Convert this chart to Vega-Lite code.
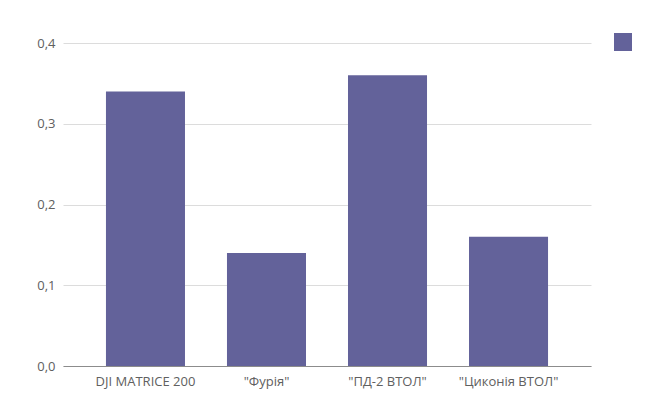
{
  "$schema": "https://vega.github.io/schema/vega-lite/v6.json",
  "width": 528,
  "height": 323,
  "autosize": {"type": "none"},
  "padding": {"left": 63, "top": 43, "right": 71, "bottom": 40},
  "background": "white",
  "config": {
    "locale": {"number": {"decimal": ",", "thousands": " ", "grouping": [3], "currency": ["", ""]}},
    "view": {"stroke": null},
    "font": "Open Sans"
  },
  "data": {
    "values": [
      {"name": "DJI MATRICE 200", "value": 0.34, "series": " "},
      {"name": "\"Фурія\"", "value": 0.14, "series": " "},
      {"name": "\"ПД-2 ВТОЛ\"", "value": 0.36, "series": " "},
      {"name": "\"Циконія ВТОЛ\"", "value": 0.16, "series": " "}
    ]
  },
  "mark": {"type": "bar"},
  "encoding": {
    "x": {
      "field": "name",
      "type": "nominal",
      "sort": null,
      "scale": {"paddingInner": 0.347, "paddingOuter": 0.355},
      "axis": {
        "title": null,
        "labelAngle": 0,
        "ticks": false,
        "labelPadding": 9,
        "labelFontSize": 13,
        "labelColor": "#606060",
        "domainColor": "#8c8c8c",
        "domainWidth": 1
      }
    },
    "y": {
      "field": "value",
      "type": "quantitative",
      "scale": {"domain": [0, 0.4], "nice": false},
      "axis": {
        "title": null,
        "values": [0, 0.1, 0.2, 0.3, 0.4],
        "format": ".1f",
        "ticks": false,
        "domain": false,
        "labelPadding": 8,
        "labelFontSize": 13,
        "labelColor": "#606060",
        "gridColor": "#dcdcdc",
        "gridWidth": 1
      }
    },
    "color": {
      "field": "series",
      "type": "nominal",
      "scale": {"range": ["#63629a"]},
      "legend": {
        "title": null,
        "orient": "none",
        "legendX": 551,
        "legendY": -10,
        "symbolType": "square",
        "symbolSize": 324,
        "symbolStrokeWidth": 0,
        "symbolOpacity": 1,
        "padding": 0,
        "labelFontSize": 1
      }
    }
  }
}
